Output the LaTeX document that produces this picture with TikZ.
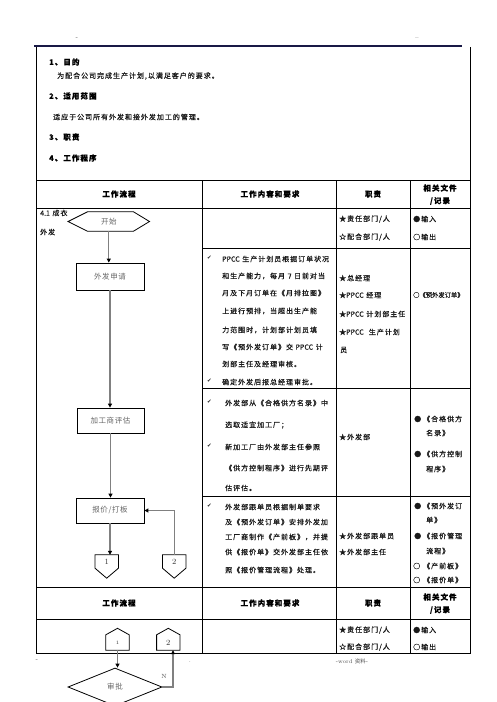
\documentclass[tikz,border=0pt]{standalone}
\usepackage{fontspec}
\newfontfamily\cjk[LetterSpace=14,FakeBold=0.5]{Noto Sans CJK SC}
\newfontfamily\cjkn[FakeBold=0.5]{Noto Sans CJK SC}
\newfontfamily\cjkp{Noto Sans CJK SC}
\newfontfamily\flowfont[LetterSpace=8]{Noto Sans CJK SC}
\newfontfamily\sym{DejaVu Sans}
\newcommand{\ppcc}{{\cjkn PPCC}}
\usetikzlibrary{arrows.meta,calc,shapes.geometric}
\definecolor{navy}{RGB}{25,25,70}
\tikzset{
  tx/.style={anchor=west, inner sep=0pt, font=\cjk\fontsize{7}{8}\selectfont, text=black!90},
  txs/.style={anchor=west, inner sep=0pt, font=\cjkn\fontsize{6.3}{7}\selectfont, text=black!90},
  hd/.style={anchor=west, inner sep=0pt, font=\cjk\bfseries\fontsize{7.5}{8}\selectfont},
  th/.style={inner sep=0pt, font=\cjk\bfseries\fontsize{7.5}{8}\selectfont},
  ck/.style={anchor=west, inner sep=0pt, font=\sym\fontsize{5.5}{6}\selectfont, text=black!85},
  fbox/.style={draw, line width=0.8pt, minimum width=68pt, minimum height=26pt, inner sep=0pt, font=\flowfont\fontsize{7.5}{8}\selectfont, text=black!60},
  ghost/.style={inner sep=0pt, font=\fontsize{8}{9}\selectfont, text=black!80},
  fl/.style={draw=black!50, line width=1.3pt},
  arr/.style={-{Triangle[length=4pt,width=4pt,black]}},
  tl/.style={line width=0.8pt},
  shp/.style={draw, line width=0.8pt},
  pmark/.style={inner sep=0pt, font=\fontsize{6}{7}\selectfont, text=black!70}
}
\begin{document}
\begin{tikzpicture}[x=1pt,y=-1pt]
\useasboundingbox (0,0) rectangle (496,702);
\clip (0,0) rectangle (496,702);
\fill[white] (0,0) rectangle (496,702);
% header marks
\node[pmark] (hm1) at (77,39) {-};
\node[pmark] (hm2) at (417,39) {--};
% top box
\draw[line width=1.3pt, navy] (34,46) -- (462,46);
\draw[tl] (36,47) -- (36,180);
\draw[tl] (470,47) -- (470,180);
\node[hd] (t1) at (49,62) {1、目的};
\node[tx] (t1a) at (57,76) {为配合公司完成生产计划,以满足客户的要求。};
\node[hd] (t2) at (49,96) {2、适用范围};
\node[tx] (t2a) at (53,117) {适应于公司所有外发和接外发加工的管理。};
\node[hd] (t3) at (49,137) {3、职责};
\node[hd] (t4) at (49,158) {4、工作程序};
% table grid
\draw[tl] (36,180) rectangle (470,653);
\draw[tl] (36,208) -- (470,208);
\draw[tl] (202,248) -- (470,248);
\draw[tl] (202,388) -- (470,388);
\draw[tl] (202,496) -- (470,496);
\draw[tl] (36,587) -- (470,587);
\draw[tl] (36,619) -- (470,619);
\draw[tl] (202,180) -- (202,653);
\draw[tl] (336,180) -- (336,653);
\draw[tl] (410,180) -- (410,653);
% header row 1
\node[th] (h1) at (119,194) {工作流程};
\node[th] (h2) at (270,194) {工作内容和要求};
\node[th] (h3) at (373,194) {职责};
\node[th] (h4) at (440,188) {相关文件};
\node[th] (h4b) at (440,201) {/记录};
% legend row
\node[tx] (l1) at (339,219) {★责任部门/人};
\node[tx] (l2) at (339,237) {☆配合部门/人};
\node[tx] (l3) at (413,219) {●输入};
\node[tx] (l4) at (413,237) {○输出};
% row 2
\node[ck] (c21) at (207,258) {✔};
\node[tx] (r21) at (222,259) {\ppcc\ 生产计划员根据订单状况};
\node[tx] (r22) at (222,276) {和生产能力，每月 7 日前对当};
\node[tx] (r23) at (222,293) {月及下月订单在《月排拉图》};
\node[tx] (r24) at (222,311) {上进行预排，当超出生产能};
\node[tx] (r25) at (222,330) {力范围时，计划部计划员填};
\node[tx] (r26) at (222,347) {写《预外发订单》交 \ppcc\ 计};
\node[tx] (r27) at (222,364) {划部主任及经理审核。};
\node[ck] (c22) at (207,381) {✔};
\node[tx] (r28) at (222,382) {确定外发后报总经理审批。};
\node[tx] (d21) at (339,278) {★总经理};
\node[tx] (d22) at (339,295) {★\ppcc\ 经理};
\node[tx] (d23) at (339,314) {★\ppcc\ 计划部主任};
\node[tx] (d24) at (339,332) {★\ppcc\ \ 生产计划};
\node[tx] (d25) at (340,350) {员};
\node[txs] (f21) at (413,295) {○《预外发订单》};
% row 3
\node[ck] (c31) at (207,402) {✔};
\node[tx] (r31) at (225,403) {外发部从《合格供方名录》中};
\node[tx] (r32) at (225,425) {选取适宜加工厂；};
\node[ck] (c32) at (207,446) {✔};
\node[tx] (r33) at (225,447) {新加工厂由外发部主任参照};
\node[tx] (r34) at (225,468) {《供方控制程序》进行先期评};
\node[tx] (r35) at (225,488) {估评估。};
\node[tx] (d31) at (339,437) {★外发部};
\node[tx] (b31) at (414,419) {●};
\node[tx] (f31) at (423,419) {《合格供方};
\node[tx] (f32) at (426,433) {名录》};
\node[tx] (b32) at (414,454) {●};
\node[tx] (f33) at (423,454) {《供方控制};
\node[tx] (f34) at (426,469) {程序》};
% row 4
\node[ck] (c41) at (207,506) {✔};
\node[tx] (r41) at (225,507) {外发部跟单员根据制单要求};
\node[tx] (r42) at (225,522) {及《预外发订单》安排外发加};
\node[tx] (r43) at (225,537) {工厂商制作《产前板》，并提};
\node[tx] (r44) at (225,552) {供《报价单》交外发部主任依};
\node[tx] (r45) at (225,570) {照《报价管理流程》处理。};
\node[tx] (d41) at (339,536) {★外发部跟单员};
\node[tx] (d42) at (339,552) {★外发部主任};
\node[tx] (b41) at (414,506) {●};
\node[tx] (f41) at (423,506) {《预外发订};
\node[tx] (f42) at (426,520) {单》};
\node[tx] (b42) at (414,536) {●};
\node[tx] (f43) at (423,536) {《报价管理};
\node[tx] (f44) at (426,551) {流程》};
\node[tx] (b43) at (413,566) {○};
\node[tx] (f45) at (423,566) {《产前板》};
\node[tx] (b44) at (413,580) {○};
\node[tx] (f46) at (423,580) {《报价单》};
% header row 2
\node[th] (g1) at (119,603) {工作流程};
\node[th] (g2) at (270,603) {工作内容和要求};
\node[th] (g3) at (373,603) {职责};
\node[th] (g4) at (440,597) {相关文件};
\node[th] (g4b) at (440,610) {/记录};
\node[tx] (m1) at (339,630) {★责任部门/人};
\node[tx] (m2) at (339,647) {☆配合部门/人};
\node[tx] (m3) at (413,630) {●输入};
\node[tx] (m4) at (413,647) {○输出};
% flow labels
\node[tx] (lab1) at (40,213) {{\cjkn 4.1} 成衣};
\node[tx] (lab2) at (40,232) {外发};
% flowchart
\node[ghost, minimum width=81pt, minimum height=19pt, font=\flowfont\fontsize{7.5}{8}\selectfont, text=black!60] (start) at (108.8,221.5) {开始};
\draw[shp] (start.west) -- ([xshift=19.4pt]start.north west) -- ([xshift=-16pt]start.north east) -- (start.east) -- ([xshift=-16pt]start.south east) -- ([xshift=19.4pt]start.south west) -- cycle;
\node[fbox, minimum height=27pt] (apply) at (110,276.5) {外发申请};
\node[fbox, minimum width=67pt, minimum height=25pt] (eval) at (110.5,420.5) {加工商评估};
\node[fbox, minimum height=25pt] (quote) at (110,510.5) {报价/打板};
\node[ghost, minimum width=23pt, minimum height=13pt] (p1) at (106.7,561.5) {1};
\draw[shp] (p1.north west) -- (p1.north east) -- (p1.south east) -- ($(p1.south)+(0,10)$) -- (p1.south west) -- cycle;
\node[ghost, minimum width=23pt, minimum height=13pt] (p2) at (174.2,561.5) {2};
\draw[shp] (p2.north west) -- (p2.north east) -- (p2.south east) -- ($(p2.south)+(0,10)$) -- (p2.south west) -- cycle;
\draw[fl,arr] (start.south) -- (start.south |- apply.north);
\draw[fl,arr] (apply.south) -- (apply.south |- eval.north);
\draw[fl,arr] (eval.south) -- (eval.south |- quote.north);
\draw[fl,arr] (quote.south) -- (quote.south |- p1.north);
\draw[fl,arr] (p2.north) |- (quote.east);
% second page flow
\node[ghost, minimum width=23pt, minimum height=15pt, font=\fontsize{5}{6}\selectfont] (q1) at (117.5,642.5) {1};
\draw[shp] (q1.south west) -- (q1.north west) -- ($(q1.north)+(0,-6.5)$) -- (q1.north east) -- (q1.south east) -- cycle;
\node[ghost, minimum width=23pt, minimum height=15pt] (q2) at (168.3,642.5) {2};
\draw[shp] (q2.south west) -- (q2.north west) -- ($(q2.north)+(0,-6.5)$) -- (q2.north east) -- (q2.south east) -- cycle;
\node[draw, line width=0.8pt, diamond, aspect=2.5, minimum width=94pt, minimum height=38pt, inner sep=0pt, font=\flowfont\fontsize{7.5}{8}\selectfont, text=black!60] (appr) at (115,687) {审批};
\coordinate (nk) at (173,687);
\draw[fl,arr] (q1.south) -- (q1.south |- appr.north);
\draw[fl,arr] (appr.east) -- (nk) -- (nk |- q2.south);
\node[pmark, font=\fontsize{6}{7}\selectfont] (nl) at (164,676) {N};
% footer
\node[pmark] (fm1) at (37,661) {-};
\node[pmark] (fm2) at (190,662) {.};
\node[pmark, font=\fontsize{5.5}{6}\selectfont] (fm3) at (352,661) {-word {\cjkp 资料}-};
\end{tikzpicture}
\end{document}
